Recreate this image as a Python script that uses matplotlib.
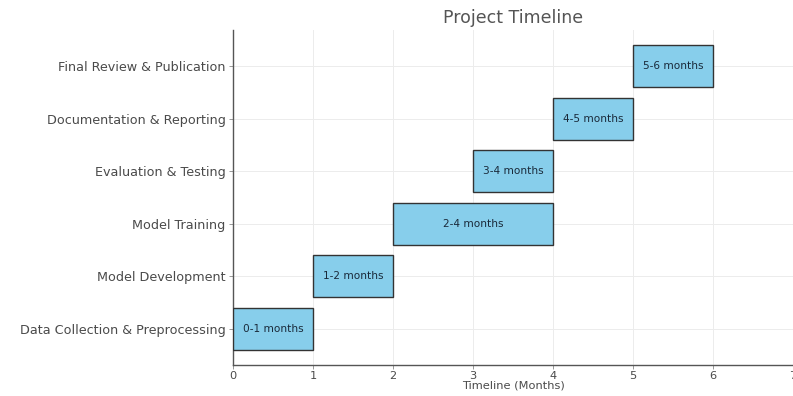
import matplotlib
matplotlib.use('Agg')
from matplotlib import pyplot as plt

tasks = ['Data Collection & Preprocessing', 'Model Development', 'Model Training',
         'Evaluation & Testing', 'Documentation & Reporting', 'Final Review & Publication']
starts = [0, 1, 2, 3, 4, 5]
durations = [1, 1, 2, 1, 1, 1]
labels = ['0-1 months', '1-2 months', '2-4 months', '3-4 months', '4-5 months', '5-6 months']

textColor = '#4a4a4a'
fig = plt.figure(figsize=(7.93, 3.96), dpi=100)
ax = fig.add_axes([0.294, 0.078, 0.706, 0.846])

rects = ax.barh(tasks, durations, left=starts, height=0.8, color='skyblue',
                edgecolor='#333333', linewidth=1.0, zorder=3)
for rect, text in zip(rects, labels):
    ax.text(rect.get_x() + rect.get_width() / 2., rect.get_y() + rect.get_height() / 2.,
            text, ha='center', va='center', fontsize=7.6, color='#1a2a3a', zorder=4)

ax.set_xlim(0, 7)
ax.set_xticks(range(0, 8))
ax.grid(True, color='#ececec', linewidth=0.7, zorder=0)
ax.spines['top'].set_visible(False)
ax.spines['right'].set_visible(False)
for side in ('left', 'bottom'):
    ax.spines[side].set_color('#555555')
    ax.spines[side].set_linewidth(1.0)
ax.tick_params(colors='#888888', labelcolor=textColor, labelsize=9.2, length=3, width=0.6, pad=2.5)
ax.tick_params(axis='x', labelsize=8.2, pad=1)
ax.set_xlabel('Timeline (Months)', fontsize=8.2, color=textColor, labelpad=0)
ax.set_title('Project Timeline', fontsize=12.5, color='#555555', pad=5)

fig.savefig('out.png', dpi=100)
